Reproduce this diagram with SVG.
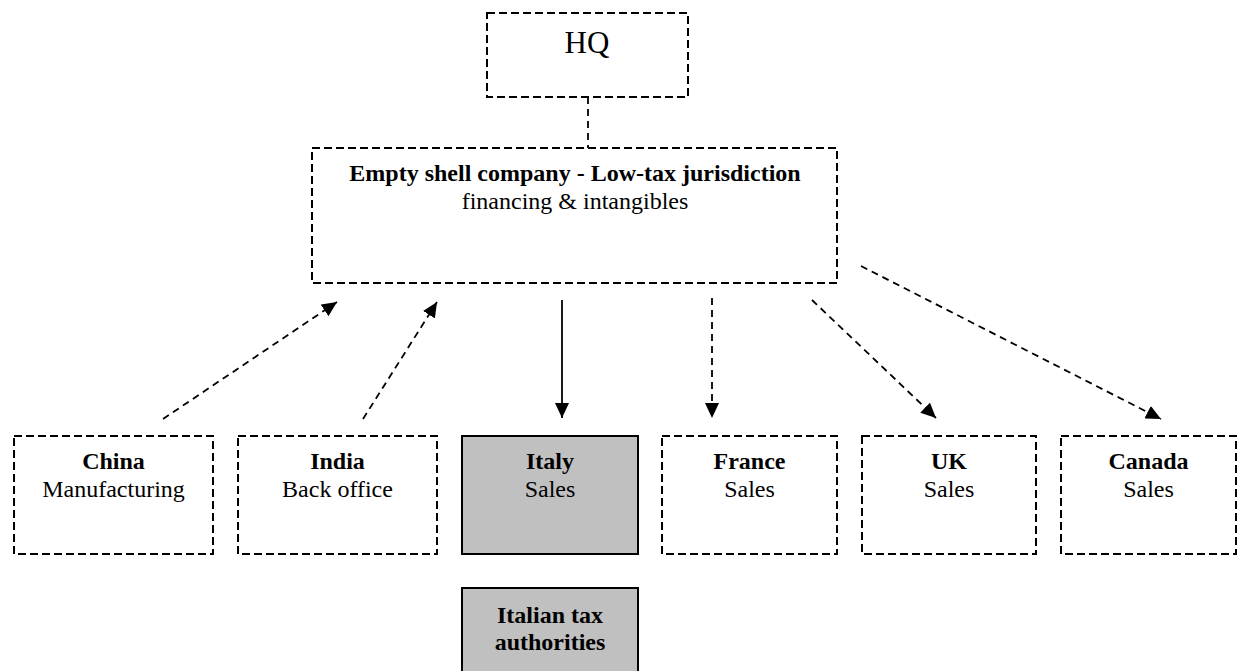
<svg xmlns="http://www.w3.org/2000/svg" width="1238" height="671" viewBox="0 0 1238 671">
<style>
.box{fill:#fff;stroke:#000;stroke-width:2;stroke-dasharray:8 4}
.gbox{fill:#c0c0c0;stroke:#000;stroke-width:2}
text{font-family:"Liberation Serif","Times New Roman",serif;font-size:24px;fill:#000;text-anchor:middle}
.b{font-weight:bold}
.hq{font-size:31px}
.dl{stroke:#000;stroke-width:1.8;stroke-dasharray:7 5;fill:none}
.sl{stroke:#000;stroke-width:1.8;fill:none}
</style>
<defs>
<marker id="ah" markerUnits="userSpaceOnUse" markerWidth="15" markerHeight="14" refX="15" refY="7" orient="auto" viewBox="0 0 15 14">
<path d="M0,0 L15,7 L0,14 z" fill="#000"/>
</marker>
</defs>
<rect width="1238" height="671" fill="#fff"/>
<g id="connectors">
<line class="dl" x1="588" y1="97" x2="588" y2="148"/>
<line class="dl" x1="163" y1="419" x2="337" y2="302" marker-end="url(#ah)"/>
<line class="dl" x1="363" y1="419" x2="437" y2="302" marker-end="url(#ah)"/>
<line class="sl" x1="562" y1="300" x2="562" y2="418" marker-end="url(#ah)"/>
<line class="dl" x1="712" y1="298" x2="712" y2="418" marker-end="url(#ah)"/>
<line class="dl" x1="812" y1="300" x2="936" y2="418" marker-end="url(#ah)"/>
<line class="dl" x1="861" y1="266" x2="1161" y2="419" marker-end="url(#ah)"/>
</g>
<g id="hq">
<rect class="box" x="487" y="13" width="201" height="84"/>
<text class="hq" x="587" y="53">HQ</text>
</g>
<g id="shell">
<rect class="box" x="312" y="148" width="525" height="135"/>
<text class="b" x="575" y="181">Empty shell company - Low-tax jurisdiction</text>
<text x="575" y="209">financing &amp; intangibles</text>
</g>
<g id="china">
<rect class="box" x="14" y="436" width="199" height="118"/>
<text class="b" x="113.5" y="469">China</text>
<text x="113.5" y="497">Manufacturing</text>
</g>
<g id="india">
<rect class="box" x="238" y="436" width="199" height="118"/>
<text class="b" x="337.5" y="469">India</text>
<text x="337.5" y="497">Back office</text>
</g>
<g id="italy">
<rect class="gbox" x="462" y="436" width="176" height="118"/>
<text class="b" x="550" y="469">Italy</text>
<text x="550" y="497">Sales</text>
</g>
<g id="france">
<rect class="box" x="662" y="436" width="175" height="118"/>
<text class="b" x="749.5" y="469">France</text>
<text x="749.5" y="497">Sales</text>
</g>
<g id="uk">
<rect class="box" x="862" y="436" width="174" height="118"/>
<text class="b" x="949" y="469">UK</text>
<text x="949" y="497">Sales</text>
</g>
<g id="canada">
<rect class="box" x="1061" y="436" width="175" height="118"/>
<text class="b" x="1148.5" y="469">Canada</text>
<text x="1148.5" y="497">Sales</text>
</g>
<g id="italian-tax">
<rect class="gbox" x="462" y="588" width="176" height="100"/>
<text class="b" x="550" y="623">Italian tax</text>
<text class="b" x="550" y="650">authorities</text>
</g>
</svg>
